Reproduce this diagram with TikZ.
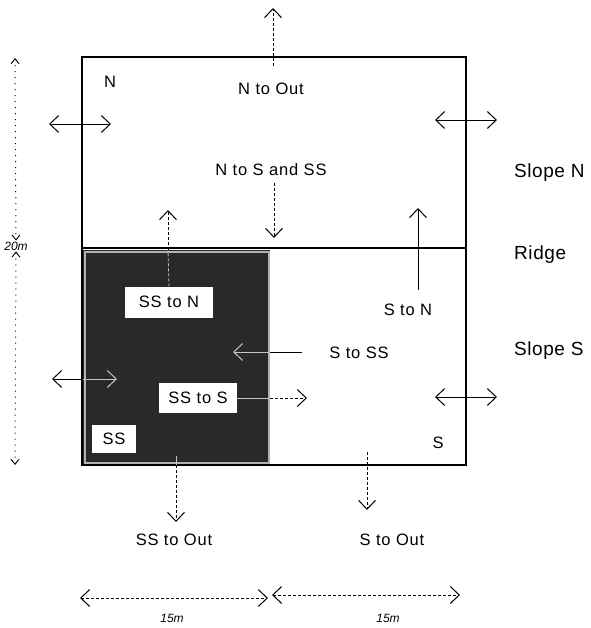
\documentclass[tikz,border=0pt]{standalone}
\usepackage{fontspec}
\setmainfont{Liberation Sans}
\usetikzlibrary{arrows.meta}
\tikzset{
  x=1pt,y=-1pt,
  lbl/.style={font=\fontsize{16.5}{18}\selectfont\addfontfeature{LetterSpace=5}, inner sep=1pt},
  big/.style={font=\fontsize{19}{21}\selectfont\addfontfeature{LetterSpace=3}, inner sep=1pt, anchor=west},
  dim/.style={font=\fontsize{12}{14}\selectfont\itshape, inner sep=1pt},
  wbox/.style={lbl, fill=white, draw=none, inner sep=0pt},
  tip/.tip={Straight Barb[length=9pt,width=17pt,line width=1pt]},
  stip/.tip={Straight Barb[length=5pt,width=8pt,line width=0.9pt]},
  arr/.style={line width=0.8pt, -tip},
  darr/.style={line width=0.8pt, tip-tip},
  sdarr/.style={line width=0.8pt, stip-stip},
  dsh/.style={dash pattern=on 3pt off 2pt},
  dot/.style={dash pattern=on 1pt off 5pt, line width=1pt},
  pale/.style={draw=gray!45},
}
\begin{document}
\begin{tikzpicture}
\useasboundingbox (0,0) rectangle (590,628);
% dark region
\fill[black!84] (83,250) rectangle (270,464);
\draw[gray!60, line width=2pt] (84.5,251.5) rectangle (268.5,462.5);
% frame
\coordinate (TL) at (82,57);
\coordinate (BR) at (466,465);
\draw[line width=1.3pt] (TL) rectangle (BR);
\draw[line width=1.3pt] (82,248) -- (466,248);

% labels
\node[lbl] (nN) at (110,82) {N};
\node[lbl] (nout) at (271,89) {N to Out};
\node[lbl] (nss) at (271,170) {N to S and SS};
\node[big] (slN) at (513,173) {Slope N};
\node[big] (ridge) at (513,255) {Ridge};
\node[big] (slS) at (513,351) {Slope S};
\node[wbox, minimum width=88, minimum height=31] (ssn) at (169,302) {SS to N};
\node[wbox, minimum width=78, minimum height=30] (sss) at (198,398) {SS to S};
\node[wbox, minimum width=44, minimum height=28] (ssb) at (114,439) {SS};
\node[lbl] (sn) at (408,310) {S to N};
\node[lbl] (sss2) at (359,353) {S to SS};
\node[lbl] (sS) at (438,443) {S};
\node[lbl] (ssout) at (174,540) {SS to Out};
\node[lbl] (sout) at (392,540) {S to Out};
\node[dim] (m20) at (16,246) {20m};
\node[dim] (m15a) at (172,618) {15m};
\node[dim] (m15b) at (388,618) {15m};

% coordinates
\coordinate (t0) at (273,66);  \coordinate (t1) at (273,8);
\coordinate (nl0) at (49,124); \coordinate (nl1) at (111,124);
\coordinate (nr0) at (435,120); \coordinate (nr1) at (497,120);
\coordinate (d0) at (274,183); \coordinate (d1) at (274,238);
\coordinate (u0) at (168,250); \coordinate (u1) at (168,210);
\coordinate (sn0) at (418,290); \coordinate (sn1) at (418,208);
\coordinate (ss0) at (302,352); \coordinate (ssm) at (270,352); \coordinate (ss1) at (233,352);
\coordinate (sl0) at (52,379); \coordinate (slm) at (83,379); \coordinate (sl1) at (117,379);
\coordinate (sm) at (270,398); \coordinate (s1) at (307,398);
\coordinate (sr0) at (435,397); \coordinate (sr1) at (497,397);
\coordinate (o0) at (176,456); \coordinate (om) at (176,465); \coordinate (o1) at (176,522);
\coordinate (p0) at (367,452); \coordinate (p1) at (367,510);
\coordinate (h0) at (15,58); \coordinate (h1) at (15,465);
\coordinate (w0) at (80,598); \coordinate (w1) at (268,598);
\coordinate (w2) at (272,595); \coordinate (w3) at (460,595);

% arrows
\draw[arr, dsh] (t0) -- (t1);
\draw[darr] (nl0) -- (nl1);
\draw[darr] (nr0) -- (nr1);
\draw[arr, dsh] (d0) -- (d1);
\draw[line width=0.8pt, pale, dsh] (ssn.north) -- (u0);
\draw[arr, dsh] (u0) -- (u1);
\draw[arr] (sn0) -- (sn1);
\draw[line width=0.8pt] (ss0) -- (ssm);
\draw[arr, pale] (ssm) -- (ss1);
\draw[line width=0.8pt, {tip}-] (sl0) -- (slm);
\draw[arr, pale] (slm) -- (sl1);
\draw[line width=0.8pt, pale] (sss.east) -- (sm);
\draw[arr, dsh] (sm) -- (s1);
\draw[darr] (sr0) -- (sr1);
\draw[line width=0.8pt, pale] (o0) -- (om);
\draw[arr, dsh] (om) -- (o1);
\draw[arr, dsh] (p0) -- (p1);
\draw[sdarr, dot] (h0) -- (m20.north);
\draw[sdarr, dot] (m20.south) -- (h1);
\draw[darr, dsh] (w0) -- (w1);
\draw[darr, dsh] (w2) -- (w3);
\end{tikzpicture}
\end{document}
